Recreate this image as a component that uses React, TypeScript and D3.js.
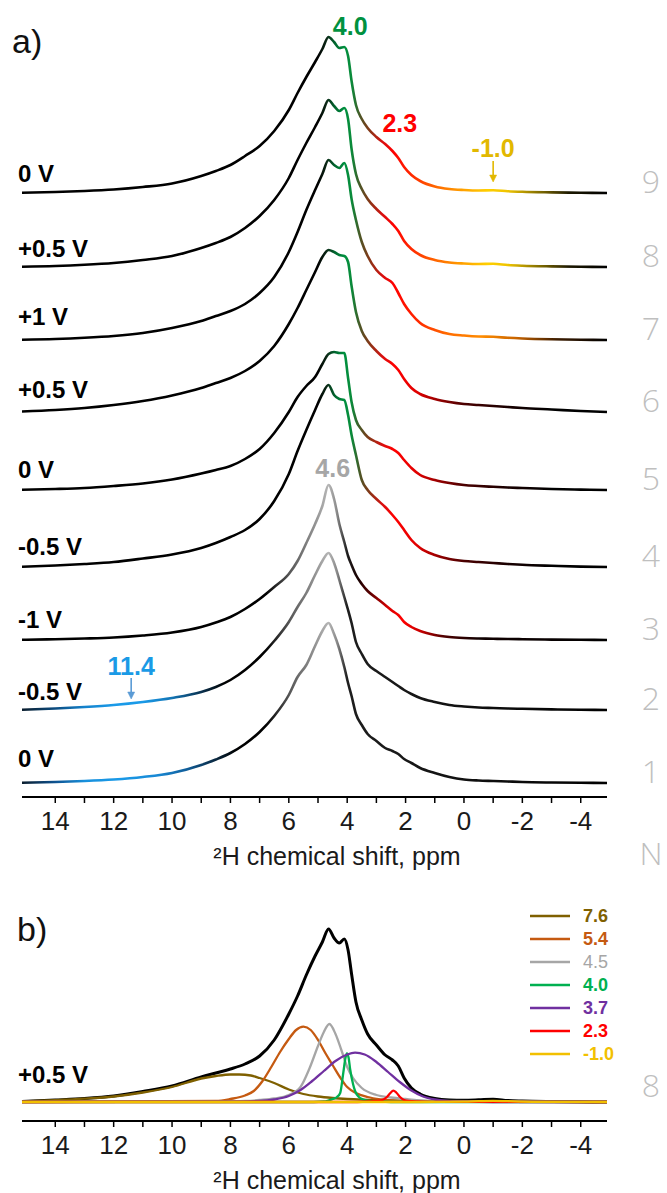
import React from "react";
import * as d3 from "d3";

const W = 667;
const H = 1193;

// shared chemical-shift grid (ppm) for the stacked spectra
const PPM = [15.14, 14, 13, 12, 11, 10, 9, 8.5, 8, 7.5, 7, 6.5, 6, 5.7, 5.4, 5.1, 4.85, 4.64, 4.45, 4.27, 4.1, 3.97, 3.85, 3.7, 3.5, 3.3, 3.0, 2.7, 2.45, 2.25, 2.05, 1.8, 1.5, 1.0, 0.5, 0, -0.5, -1, -1.5, -2, -3, -4, -4.9];

// intensities (a.u.) of spectra 1..9 (bottom to top)
const SPEC_1 = [0.3, 1, 2, 3.5, 6, 10, 18, 23.5, 30, 39, 51, 67, 88, 106, 118, 137, 152, 160, 149, 134, 116, 100, 87, 69, 58, 49, 42, 35, 32, 29, 24, 20, 15, 10, 6, 3.5, 2.5, 2, 1.5, 1, 0.5, 0.2, 0];
const SPEC_2 = [0.3, 1.5, 3, 5, 8, 12, 18, 23, 30, 40, 53, 69, 88, 103, 117, 135, 149, 157, 147, 130, 113, 100, 87, 68, 56, 46, 39, 33, 28, 24, 20, 16, 12, 8, 5, 3.5, 2.5, 2, 1.5, 1.2, 0.6, 0.3, 0];
const SPEC_3 = [0.2, 0.8, 1.5, 2.5, 4.5, 7.5, 13, 17.5, 23, 31, 41, 53, 66, 79, 97, 116, 134, 155, 141, 116, 98, 84, 75, 65, 56, 49, 42, 35, 29, 25, 18, 13, 9, 5, 3, 2, 1.5, 1.2, 1, 0.8, 0.4, 0.2, 0];
const SPEC_4 = [0.3, 1.5, 3, 5, 8.5, 12.5, 19, 24, 30, 37, 48, 66, 93, 116, 137, 157, 173, 182, 172, 168, 167, 152, 132, 112, 87, 77, 68, 60, 52, 45, 37, 27, 19, 12, 8, 6, 5, 4, 3, 2.2, 1.2, 0.4, 0];
const SPEC_5 = [0.3, 1, 2, 4, 6.5, 10.5, 16.5, 20, 24, 31, 41, 57, 78, 93, 104, 113, 126, 136, 138, 137, 137, 112, 88, 70, 60, 53, 48, 44, 41, 37, 30, 22, 15, 10, 7, 5, 4, 3.2, 2.5, 2, 1, 0.4, 0];
const SPEC_6 = [0.5, 2, 4, 7, 11, 16.5, 24, 29, 34, 41, 51, 66, 88, 104, 122, 140, 155, 162, 160, 157, 156, 150, 126, 100, 81, 71, 61, 53, 48, 42, 33, 24, 18, 13, 10, 8, 7, 6, 5, 4, 2.5, 1, 0];
const SPEC_7 = [0.3, 1, 2.2, 4, 7, 12, 19, 24, 29, 36, 47, 63, 88, 108, 130, 150, 166, 180, 175, 172, 177, 165, 141, 120, 98, 84, 70, 62, 57, 47, 36, 26, 17, 10, 6, 4.5, 3.5, 3.2, 2.2, 1.5, 0.7, 0.3, 0];
const SPEC_8 = [0.3, 1, 2.2, 4, 7, 11, 19, 24, 30, 39, 51, 67, 89, 107, 124, 140, 154, 167, 161, 156, 159, 148, 118, 93, 78, 68, 58, 50, 43, 36, 26, 18, 12, 7, 4.5, 3.5, 3, 3.2, 2, 1.3, 0.6, 0.2, 0];
const SPEC_9 = [0.3, 1, 2, 3.5, 6, 9.5, 17, 22, 28, 37, 47, 62, 83, 100, 116, 131, 144, 156, 151, 145, 146, 137, 112, 88, 74, 65, 56, 49, 42, 35, 26, 18, 12, 6.5, 4, 3, 2.5, 2.8, 1.8, 1.2, 0.6, 0.2, 0];

const VOLTAGES = ["0 V", "-0.5 V", "-1 V", "-0.5 V", "0 V", "+0.5 V", "+1 V", "+0.5 V", "0 V"];
const SPECTRUM_NUMBERS = ["1", "2", "3", "4", "5", "6", "7", "8", "9"];

// panel b: experimental spectrum (+0.5 V, N = 8) on the same grid
const SPEC_B = [0.5, 2, 3.5, 6, 10.5, 16, 25, 29, 33, 38, 46, 62, 88, 106, 127, 146, 160, 173, 164, 159, 163, 152, 128, 100, 82, 68, 57, 47, 42, 36, 24, 14, 8, 3.5, 2, 1.8, 2.2, 2.8, 1.5, 1, 0.5, 0.2, 0];

// fitted components (ppm, intensity)
const FIT_76_PPM = [15.14, 14, 13, 12, 11, 10, 9, 8.5, 8, 7.7, 7.3, 7, 6.5, 6, 5.5, 5, 4.5, 4, 3.5, 3, 2, 1, 0, -2, -4.9];
const FIT_76_I = [0.5, 1.8, 3.3, 5.5, 9.5, 15, 23.5, 26, 27.5, 27.5, 26.5, 24, 19, 12.5, 8, 5.5, 4, 3, 2.3, 1.8, 1.2, 0.8, 0.5, 0.3, 0];
const FIT_54_PPM = [15.14, 8.5, 8, 7.5, 7.2, 6.9, 6.6, 6.3, 6.0, 5.75, 5.5, 5.25, 5.0, 4.75, 4.5, 4.25, 4.0, 3.7, 3.3, 2.8, 2.0, 1.0, -4.9];
const FIT_54_I = [0, 1, 3, 6.5, 11, 21, 35, 50, 63, 72, 75.3, 72, 62, 49, 37, 25, 15, 9, 5, 2.5, 0.8, 0.2, 0];
const FIT_45_PPM = [15.14, 8, 7.5, 7, 6.5, 6, 5.6, 5.3, 5.0, 4.8, 4.61, 4.4, 4.2, 4.0, 3.8, 3.5, 3.0, 2.5, 2.0, 1.0, -4.9];
const FIT_45_I = [0, 0.5, 1, 2, 3.5, 7, 15, 33, 56, 70, 78, 68, 52, 35, 24, 14, 7, 4.5, 3, 1, 0];
const FIT_40_PPM = [15.14, 5.5, 4.8, 4.5, 4.35, 4.24, 4.13, 4.06, 4.01, 3.95, 3.9, 3.8, 3.73, 3.6, 3.45, 3.2, 2.5, -4.9];
const FIT_40_I = [0, 0, 0.5, 3, 5, 9, 30, 44, 48.7, 44, 33, 18, 11, 5, 2.5, 0.8, 0, 0];
const FIT_37_PPM = [15.14, 8, 7, 6.5, 6, 5.6, 5.2, 4.8, 4.4, 4.0, 3.73, 3.4, 3.0, 2.6, 2.2, 1.8, 1.4, 1.0, 0.5, 0, -1, -4.9];
const FIT_37_I = [0, 0.3, 1, 2.5, 6, 12, 21, 31, 41, 47.5, 49.3, 47.5, 40, 30, 20, 11.5, 5.5, 2.5, 0.8, 0.3, 0, 0];
const FIT_23_PPM = [15.14, 4, 3.3, 3.0, 2.8, 2.64, 2.52, 2.42, 2.32, 2.19, 2.05, 1.9, 1.6, 1.0, -4.9];
const FIT_23_I = [0, 0, 0.5, 1, 2, 5, 9, 11.3, 9.5, 5, 2, 1, 0.5, 0.2, 0];
const FIT_M10_PPM = [15.14, 1.5, 0, -0.5, -1, -1.5, -2.5, -4.9];
const FIT_M10_I = [0, 0, 0.3, 0.8, 1.2, 0.8, 0.2, 0];

const FIT_LABELS = ["7.6", "5.4", "4.5", "4.0", "3.7", "2.3", "-1.0"];

const AXIS_TICKS = [14, 13, 12, 11, 10, 9, 8, 7, 6, 5, 4, 3, 2, 1, 0, -1, -2, -3, -4];
const AXIS_LABELS = [14, 12, 10, 8, 6, 4, 2, 0, -2, -4];

// peak annotations in panel a
const ANNOT_PPM = [4.0, 2.3, -1.0, 4.6, 11.4];
const ANNOT_TEXT = ["4.0", "2.3", "-1.0", "4.6", "11.4"];

// ---------- styles / layout ----------
const FONT = "'Liberation Sans', Arial, Helvetica, sans-serif";
const ROW_BASE = [783, 710, 640, 567, 490, 412, 340, 267, 193];
const VOLT_BASE = [767, 700, 628, 555, 478, 398, 325, 257, 182];
const B_BASE = 1102;
const AXIS_A_Y = 797;
const AXIS_B_Y = 1121;

const FIT_COLORS = ["#7F6000", "#C55A11", "#A6A6A6", "#00B050", "#7030A0", "#FF0000", "#F2C000"];
const ANNOT_COLORS = ["#00913F", "#FF0000", "#E2B800", "#A6A6A6", "#1A9AE6"];
const ANNOT_BASE = [35, 132, 157, 477, 675];
const ARROW_COLORS = [null, null, "#E2B800", null, "#5B9BD5"];
const ARROW_Y = [null, null, [161, 182], null, [678, 699]];

type Stop = [number, string];
const GREEN_HEAD: Stop[] = [[15.14, "#000"], [5.0, "#000"], [4.7, "#0c2a17"], [4.4, "#006a30"], [4.1, "#00903f"], [3.85, "#0a8a3a"], [3.55, "#4d5526"], [3.2, "#8c3416"], [2.8, "#d81010"], [2.4, "#ff0000"]];
const GRAD_YELLOW: Stop[] = [...GREEN_HEAD, [1.8, "#ff2a00"], [1.0, "#ff6400"], [0.2, "#ff9800"], [-0.8, "#ffcf00"], [-1.5, "#efc400"], [-2.5, "#8a7400"], [-3.6, "#1c1800"], [-4.9, "#000"]];
const GRAD_ORANGE: Stop[] = [...GREEN_HEAD, [1.6, "#ff2800"], [0.6, "#ff6a00"], [-0.6, "#ff8c00"], [-1.8, "#c86400"], [-3.2, "#3c1c00"], [-4.9, "#000"]];
const GRAD_RED: Stop[] = [...GREEN_HEAD, [1.6, "#e00000"], [0.8, "#900000"], [0, "#4a0000"], [-1.5, "#180000"], [-3, "#000"], [-4.9, "#000"]];
const GRAY_PEAK: Stop[] = [[6.8, "#000"], [6.0, "#555"], [5.2, "#8c8c8c"], [4.64, "#b6b6b6"], [4.35, "#8a8a8a"], [4.0, "#1e1e1e"]];
const GRAD_GRAY_RED: Stop[] = [[15.14, "#000"], ...GRAY_PEAK, [3.6, "#1a0000"], [3.1, "#700000"], [2.6, "#d80000"], [2.1, "#ff0000"], [1.5, "#c80000"], [0.7, "#500000"], [-0.5, "#100000"], [-4.9, "#000"]];
const GRAD_BLUE_2: Stop[] = [[15.14, "#0a1c2c"], [14, "#0c4c80"], [13, "#1482cc"], [12, "#1a9ae8"], [11, "#1a9ae8"], [10, "#1274b4"], [9, "#0a3250"], [8.2, "#000"], ...GRAY_PEAK, [-4.9, "#000"]];
const GRAD_BLUE_1: Stop[] = [[15.14, "#0a1c2c"], [14, "#0e5290"], [13, "#1890dc"], [11.8, "#1a9ae8"], [10.5, "#1888d4"], [9.5, "#105e9a"], [8.5, "#0a2840"], [7.8, "#000"], ...GRAY_PEAK, [-4.9, "#000"]];
const ROW_GRADS = [GRAD_BLUE_1, GRAD_BLUE_2, GRAD_GRAY_RED, GRAD_RED, GRAD_RED, GRAD_RED, GRAD_ORANGE, GRAD_YELLOW, GRAD_YELLOW];

export default function App() {
  const x = d3.scaleLinear().domain([15.14, -4.9]).range([22, 607]);
  const yI = d3.scaleLinear().domain([0, 200]).range([0, 200]);
  const [x0, x1] = x.range();

  const spectra = [SPEC_1, SPEC_2, SPEC_3, SPEC_4, SPEC_5, SPEC_6, SPEC_7, SPEC_8, SPEC_9];
  const mkLine = (base: number) =>
    d3
      .line<[number, number]>()
      .x((d) => x(d[0]))
      .y((d) => base - yI(d[1]))
      .curve(d3.curveMonotoneX);

  const fits = [
    [FIT_76_PPM, FIT_76_I],
    [FIT_54_PPM, FIT_54_I],
    [FIT_45_PPM, FIT_45_I],
    [FIT_40_PPM, FIT_40_I],
    [FIT_37_PPM, FIT_37_I],
    [FIT_23_PPM, FIT_23_I],
    [FIT_M10_PPM, FIT_M10_I],
  ];

  const axis = (yAxis: number, key: string) => (
    <g key={key}>
      <line x1={x0} x2={x1} y1={yAxis} y2={yAxis} stroke="#000" strokeWidth={2} />
      {AXIS_TICKS.map((t) => (
        <line key={t} x1={x(t)} x2={x(t)} y1={yAxis} y2={yAxis + 6} stroke="#000" strokeWidth={1.5} />
      ))}
      {AXIS_LABELS.map((t) => (
        <text key={t} x={x(t)} y={yAxis + 33} textAnchor="middle" fontSize={26} fontFamily={FONT} fill="#1a1a1a">
          {String(t)}
        </text>
      ))}
      <text x={337} y={yAxis + 68} textAnchor="middle" fontSize={25} fontFamily={FONT} fill="#1a1a1a">
        ²H chemical shift, ppm
      </text>
    </g>
  );

  return (
    <svg width={W} height={H} style={{ position: "absolute", left: 0, top: 0, background: "#fff" }}>
      <defs>
        {ROW_GRADS.map((stops, i) => (
          <linearGradient key={i} id={`rowgrad${i}`} gradientUnits="userSpaceOnUse" x1={x0} x2={x1} y1={0} y2={0}>
            {stops.map(([p, c], j) => (
              <stop key={j} offset={(x(p) - x0) / (x1 - x0)} stopColor={c} />
            ))}
          </linearGradient>
        ))}
      </defs>

      {/* panel a */}
      <text x={12} y={53} fontSize={34} fontFamily={FONT} fill="#111">a)</text>
      {spectra.map((s, i) => {
        const pts = PPM.map((p, k) => [p, s[k]] as [number, number]);
        return (
          <g key={i}>
            <path d={mkLine(ROW_BASE[i])(pts) || ""} fill="none" stroke={`url(#rowgrad${i})`} strokeWidth={2.6} strokeLinejoin="round" />
            <text x={18} y={VOLT_BASE[i]} fontSize={24} fontWeight="bold" fontFamily={FONT} fill="#000">
              {VOLTAGES[i]}
            </text>
            <text x={651} y={ROW_BASE[i]} textAnchor="middle" fontSize={32} fontWeight={300} fontFamily="'Open Sans', 'Liberation Sans', sans-serif" fill="#BFBFBF">
              {SPECTRUM_NUMBERS[i]}
            </text>
          </g>
        );
      })}
      {ANNOT_PPM.map((p, i) => {
        const ay = ARROW_Y[i] as number[] | null;
        const ax = x(p);
        return (
          <g key={i}>
            <text x={ax + (ay ? 0 : 3)} y={ANNOT_BASE[i]} textAnchor="middle" fontSize={25} fontWeight="bold" fontFamily={FONT} fill={ANNOT_COLORS[i]}>
              {ANNOT_TEXT[i]}
            </text>
            {ay && (
              <g stroke={ARROW_COLORS[i] as string} fill={ARROW_COLORS[i] as string}>
                <line x1={ax} x2={ax} y1={ay[0]} y2={ay[1] - 5} strokeWidth={1.6} />
                <path d={`M${ax - 3.5},${ay[1] - 7}L${ax + 3.5},${ay[1] - 7}L${ax},${ay[1]}Z`} strokeWidth={0.5} />
              </g>
            )}
          </g>
        );
      })}
      {axis(AXIS_A_Y, "axA")}
      <text x={651} y={865} textAnchor="middle" fontSize={32} fontWeight={300} fontFamily="'Open Sans', 'Liberation Sans', sans-serif" fill="#BFBFBF">N</text>

      {/* panel b */}
      <text x={17} y={941} fontSize={34} fontFamily={FONT} fill="#111">b)</text>
      <path
        d={mkLine(B_BASE)(PPM.map((p, k) => [p, SPEC_B[k]] as [number, number])) || ""}
        fill="none"
        stroke="#000"
        strokeWidth={3}
        strokeLinejoin="round"
      />
      {fits.map(([pp, ii], i) => (
        <path
          key={i}
          d={mkLine(B_BASE)(pp.map((p, k) => [p, ii[k]] as [number, number])) || ""}
          fill="none"
          stroke={FIT_COLORS[i]}
          strokeWidth={2.3}
          strokeLinejoin="round"
        />
      ))}
      <text x={18} y={1083} fontSize={24} fontWeight="bold" fontFamily={FONT} fill="#000">+0.5 V</text>
      <text x={651} y={1097} textAnchor="middle" fontSize={32} fontWeight={300} fontFamily="'Open Sans', 'Liberation Sans', sans-serif" fill="#BFBFBF">8</text>
      {FIT_LABELS.map((lab, i) => (
        <g key={lab}>
          <line x1={530} x2={570} y1={916 + i * 23} y2={916 + i * 23} stroke={FIT_COLORS[i]} strokeWidth={2.6} />
          <text x={583} y={916 + i * 23 + 6} fontSize={18} fontWeight={lab === "4.5" ? "normal" : "bold"} fontFamily={FONT} fill={FIT_COLORS[i]}>
            {lab}
          </text>
        </g>
      ))}
      {axis(AXIS_B_Y, "axB")}
    </svg>
  );
}
